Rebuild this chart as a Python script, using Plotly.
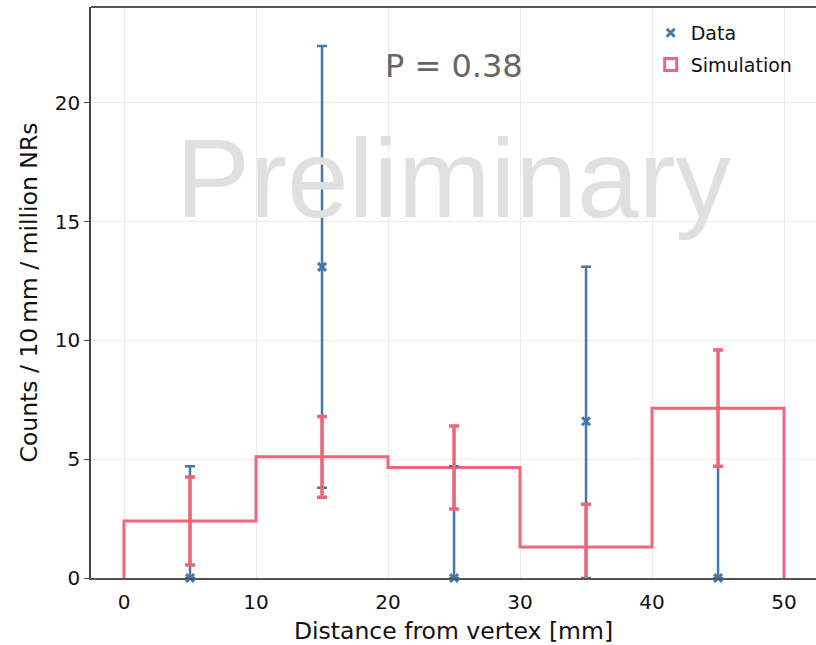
import plotly.graph_objects as go

# ---- data ----
bin_edges = [0, 10, 20, 30, 40, 50]
bin_centers = [5, 15, 25, 35, 45]
sim_values = [2.4, 5.1, 4.65, 1.3, 7.15]
sim_err = [1.85, 1.7, 1.75, 1.8, 2.45]
data_values = [0.0, 13.1, 0.0, 6.6, 0.0]
data_err_lo = [0.0, 9.3, 0.0, 6.6, 0.0]
data_err_hi = [4.7, 9.3, 4.7, 6.5, 4.7]
x_ticks = [0, 10, 20, 30, 40, 50]
y_ticks = [0, 5, 10, 15, 20]
p_value = 0.38

BLUE = "#4477AA"
RED = "#EE6677"

# step outline built from the bin edges/values
step_x = [bin_edges[0]] + bin_edges + [bin_edges[-1]]
step_y = [0] + sim_values + [sim_values[-1], 0]

fig = go.Figure()

fig.add_trace(go.Scatter(
    x=step_x, y=step_y, mode="lines", line=dict(color=RED, width=3, shape="hv"),
    showlegend=False, hoverinfo="skip"))

fig.add_trace(go.Scatter(
    x=bin_centers, y=data_values, mode="markers", name="Data", legendgroup="a",
    marker=dict(symbol="x-thin", size=8, color=BLUE, line=dict(color=BLUE, width=3)),
    error_y=dict(type="data", symmetric=False, array=data_err_hi, arrayminus=data_err_lo,
                 color=BLUE, thickness=2.5, width=5),
    cliponaxis=False))

fig.add_trace(go.Scatter(
    x=bin_centers, y=sim_values, mode="markers", showlegend=False,
    marker=dict(size=1, color=RED),
    error_y=dict(type="data", array=sim_err, color=RED, thickness=3.5, width=5),
    hoverinfo="skip"))

# legend entry for the simulation histogram
fig.add_trace(go.Bar(
    x=[None], y=[None], name="Simulation", legendgroup="b",
    marker=dict(color="rgba(0,0,0,0)", line=dict(color=RED, width=3))))

fig.add_annotation(
    x=25, y=16.8, xref="x", yref="y", text="Preliminary", showarrow=False,
    font=dict(family="Liberation Sans", size=111, color="#e0e0e0"),
    xanchor="center", yanchor="middle")

fig.add_annotation(
    x=25, y=21.55, xref="x", yref="y", text=f"P = {p_value:.2f}", showarrow=False,
    font=dict(family="DejaVu Sans", size=32, color="#666666"),
    xanchor="center", yanchor="middle")

# top spine
fig.add_shape(type="line", xref="paper", yref="paper", x0=0, x1=1, y0=1, y1=1,
              line=dict(color="#222222", width=1.5))

fig.update_layout(
    width=816, height=645,
    margin=dict(l=91, r=0, t=7, b=67),
    paper_bgcolor="white", plot_bgcolor="white",
    font=dict(family="DejaVu Sans", size=19, color="#111111"),
    showlegend=True,
    legend=dict(x=0.772, y=0.988, xanchor="left", yanchor="top",
                bgcolor="rgba(255,255,255,0)", font=dict(size=19),
                traceorder="grouped", tracegroupgap=4),
    xaxis=dict(
        range=[-2.5, 52.42], tickvals=x_ticks, ticks="outside", ticklen=5,
        tickcolor="rgba(0,0,0,0)", showline=True, linecolor="#555555", linewidth=1.5,
        showgrid=True, gridcolor="#ececec", gridwidth=1, zeroline=False,
        title=dict(text="Distance from vertex [mm]", font=dict(size=23.5), standoff=12),
        tickfont=dict(size=20)),
    yaxis=dict(
        range=[0, 24.04], tickvals=y_ticks, ticks="outside", ticklen=5,
        tickcolor="#444", showline=True, linecolor="#444444", linewidth=1.5,
        showgrid=True, gridcolor="#ececec", gridwidth=1, zeroline=False,
        title=dict(text="Counts / 10\u2009mm / million NRs", font=dict(size=23.5), standoff=11),
        tickfont=dict(size=20)),
)

fig.write_html("out.html")
